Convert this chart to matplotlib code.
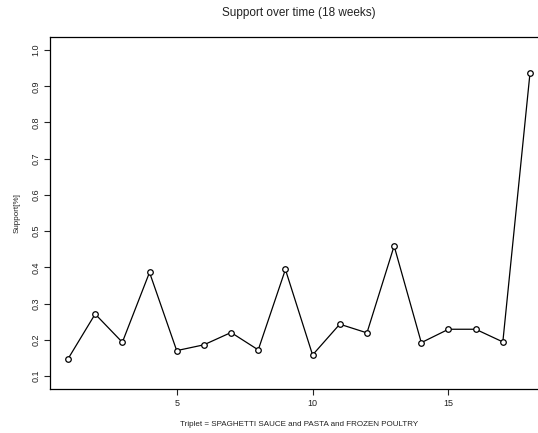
import numpy as np
import matplotlib.pyplot as plt

plt.rcParams["font.family"] = ["Liberation Sans", "DejaVu Sans"]

weeks = np.arange(1, 19)
support = [0.147, 0.271, 0.193, 0.386, 0.170, 0.186, 0.220, 0.172, 0.394,
           0.158, 0.243, 0.219, 0.459, 0.192, 0.229, 0.229, 0.194, 0.937]

fig = plt.figure(figsize=(5.38, 4.33), dpi=100)
# plot region runs past the right edge, like the original device
ax = fig.add_axes([49.5 / 538, 44 / 433, 499 / 538, 352 / 433])

ax.plot(weeks, support, color="black", lw=0.9, marker="o", markersize=4,
        markerfacecolor="white", markeredgecolor="black", markeredgewidth=0.9)

ax.set_xlim(0.32, 18.68)
ax.set_ylim(0.064, 1.036)
ax.set_xticks([5, 10, 15])
ax.set_yticks(np.arange(0.1, 1.01, 0.1))
ax.set_yticklabels([f"{v:.1f}" for v in np.arange(0.1, 1.01, 0.1)],
                   rotation=90, va="center")
ax.tick_params(direction="out", length=4.5, width=0.8, labelsize=6.5,
               pad=2, colors="#222222")
ax.tick_params(axis="x", pad=3)

for s in ax.spines.values():
    s.set_linewidth(0.9)
ax.spines["right"].set_visible(False)

ax.set_xlabel("Triplet = SPAGHETTI SAUCE and PASTA and FROZEN POULTRY",
              fontsize=5.8, labelpad=9, color="#222222")
ax.set_ylabel("Support[%]", fontsize=5.8, labelpad=8, color="#222222")
fig.text(299 / 538, 1 - 13 / 433, "Support over time (18 weeks)",
         ha="center", va="center", fontsize=8.5, color="#222222")

fig.savefig("out.png", dpi=100)
